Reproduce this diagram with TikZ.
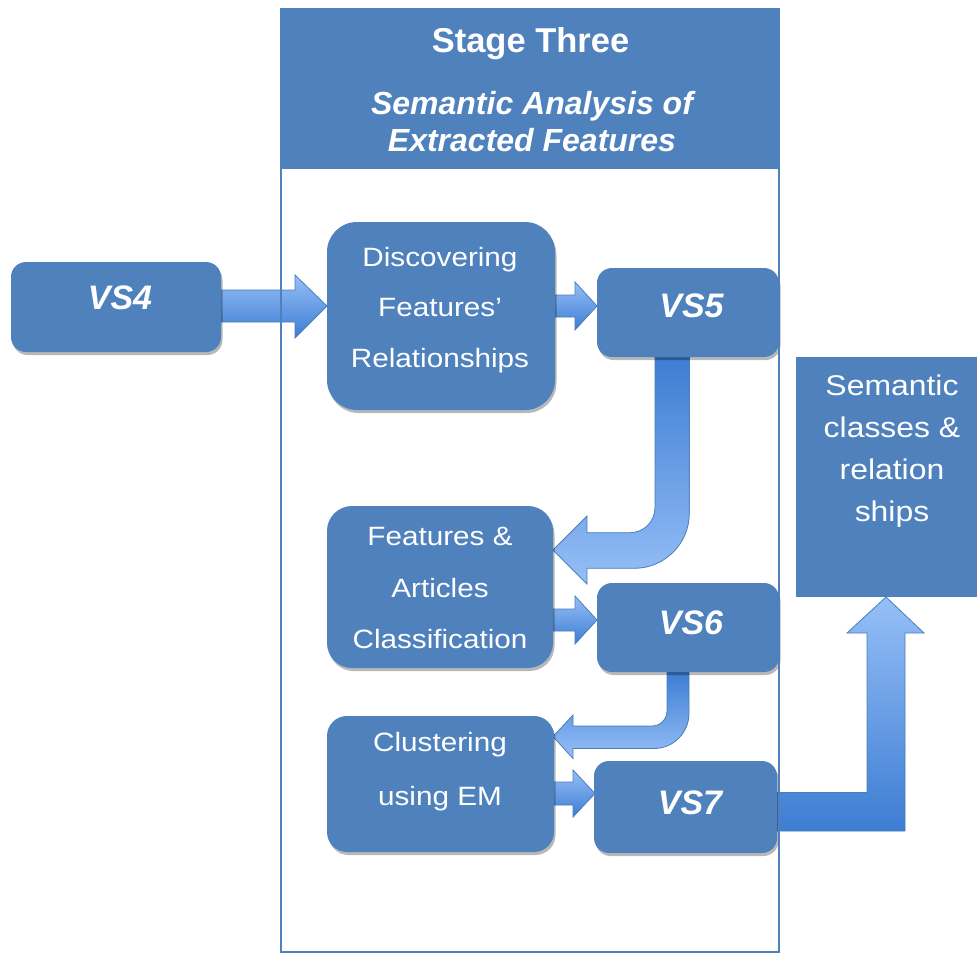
\documentclass[tikz,border=0pt]{standalone}
\usepackage{fontspec}
\setmainfont{Liberation Sans}
\newfontfamily\bodyfont{Liberation Sans}[FakeStretch=1.12]
\usetikzlibrary{shadows}
\definecolor{boxblue}{HTML}{4F81BD}
\definecolor{arrdark}{HTML}{3D7DD3}
\definecolor{arrlight}{HTML}{96BFF7}
\definecolor{arrline}{HTML}{4A7EBB}
\begin{document}
\begin{tikzpicture}[x=1pt,y=-1pt,
  box/.style={fill=boxblue, inner sep=0pt, outer sep=0pt, anchor=north west,
    drop shadow={shadow xshift=1.5pt, shadow yshift=-3pt, opacity=0.28, fill=black}},
  arrowbody/.style={draw=arrline, line width=0.8pt, line join=miter},
  downlight/.style={arrowbody, top color=arrlight, bottom color=arrdark},
  downdark/.style={arrowbody, top color=arrdark, bottom color=arrlight},
  wtxt/.style={text=white, inner sep=0pt, anchor=base, align=center},
  titlef/.style={wtxt, font=\fontsize{34.5}{40}\selectfont\bfseries},
  subf/.style={wtxt, font=\fontsize{32}{36.6}\selectfont\bfseries\itshape},
  vsf/.style={wtxt, font=\fontsize{34}{40}\selectfont\bfseries\itshape},
  bodyf/.style={wtxt, font=\bodyfont\fontsize{26.5}{52}\selectfont},
]
\useasboundingbox (0,0) rectangle (977,954);
\fill[white] (0,0) rectangle (977,954);

% stage frame header
\node[fill=boxblue, inner sep=0pt, outer sep=0pt, anchor=north west,
  minimum width=498, minimum height=160] (head) at (281,9) {};

% block arrows
\shade[downlight] (221,290) -- (295,290) -- (295,275) -- (327,306) -- (295,338) -- (295,322) -- (221,322) -- cycle;
\shade[downlight] (555,295) -- (575,295) -- (575,282) -- (597,306) -- (575,330) -- (575,317) -- (555,317) -- cycle;
\shade[downdark] (655,357) -- (655,507.7) .. controls (655,521.5) and (643.8,532.7) .. (630,532.7)
  -- (587,532.7) -- (587,516) -- (553,550) -- (587,584) -- (587,568.3) -- (634.3,568.3)
  .. controls (664.7,568.3) and (689.3,543.7) .. (689.3,513.3) -- (689.3,357) -- cycle;
\shade[downlight] (553,609) -- (575,609) -- (575,596) -- (597,620) -- (575,644) -- (575,631) -- (553,631) -- cycle;
\shade[downdark] (667,672) -- (667,711) .. controls (667,719.3) and (660.3,726) .. (652,726)
  -- (573,726) -- (573,715) -- (553,736.5) -- (573,758.5) -- (573,748.5) -- (654,748.5)
  .. controls (673.3,748.5) and (689,732.8) .. (689,713.5) -- (689,672) -- cycle;
\shade[downlight] (553,782) -- (573,782) -- (573,770) -- (595,793.5) -- (573,817) -- (573,805) -- (553,805) -- cycle;
\shade[downlight] (777,792.5) -- (867,792.5) -- (867,633) -- (847,633) -- (886,597) -- (924,633)
  -- (905,633) -- (905,831) -- (777,831) -- cycle;

% boxes
\node[box, rounded corners=15pt, minimum width=210, minimum height=90] (vs4) at (11,262) {};
\node[box, rounded corners=30pt, minimum width=228, minimum height=188] (disc) at (327,222) {};
\node[box, rounded corners=15pt, minimum width=182, minimum height=89] (vs5) at (597,268) {};
\node[box, rounded corners=25pt, minimum width=226, minimum height=162] (feat) at (327,506) {};
\node[box, rounded corners=15pt, minimum width=182, minimum height=89] (vs6) at (597,583) {};
\node[box, rounded corners=20pt, minimum width=227, minimum height=136] (clus) at (327,716) {};
\node[box, rounded corners=15pt, minimum width=183, minimum height=92] (vs7) at (594,761) {};
\node[fill=boxblue, inner sep=0pt, outer sep=0pt, anchor=north west,
  minimum width=181, minimum height=240] (sem) at (796,357) {};

% frame outline
\node[draw=boxblue, line width=1.4pt, inner sep=0pt, outer sep=0pt, anchor=north west,
  minimum width=498, minimum height=943] (frame) at (281,9) {};

% texts (anchor = baseline of the last line)
\node[titlef] (ttitle) at (530.5,52) {Stage Three};
\node[subf] (tsub) at (532,151.1) {Semantic Analysis of\\Extracted Features};
\node[vsf] (tvs4) at (120,309) {VS4};
\node[vsf] (tvs5) at (691.5,317) {VS5};
\node[vsf] (tvs6) at (691,634) {VS6};
\node[vsf] (tvs7) at (690,814) {VS7};
\node[bodyf, font=\bodyfont\fontsize{26.5}{50.5}\selectfont] (tdisc) at (440,367) {Discovering\\Features’\\Relationships};
\node[bodyf, font=\bodyfont\fontsize{26.5}{51.5}\selectfont] (tfeat) at (440,648.5) {Features \&\\Articles\\Classification};
\node[bodyf, font=\bodyfont\fontsize{26.5}{54.5}\selectfont] (tclus) at (440,805.5) {Clustering\\using EM};
\node[bodyf, font=\bodyfont\fontsize{28.5}{42.2}\selectfont] (tsem) at (892,521.6) {Semantic\\classes \&\\relation\\ships};
\end{tikzpicture}
\end{document}
